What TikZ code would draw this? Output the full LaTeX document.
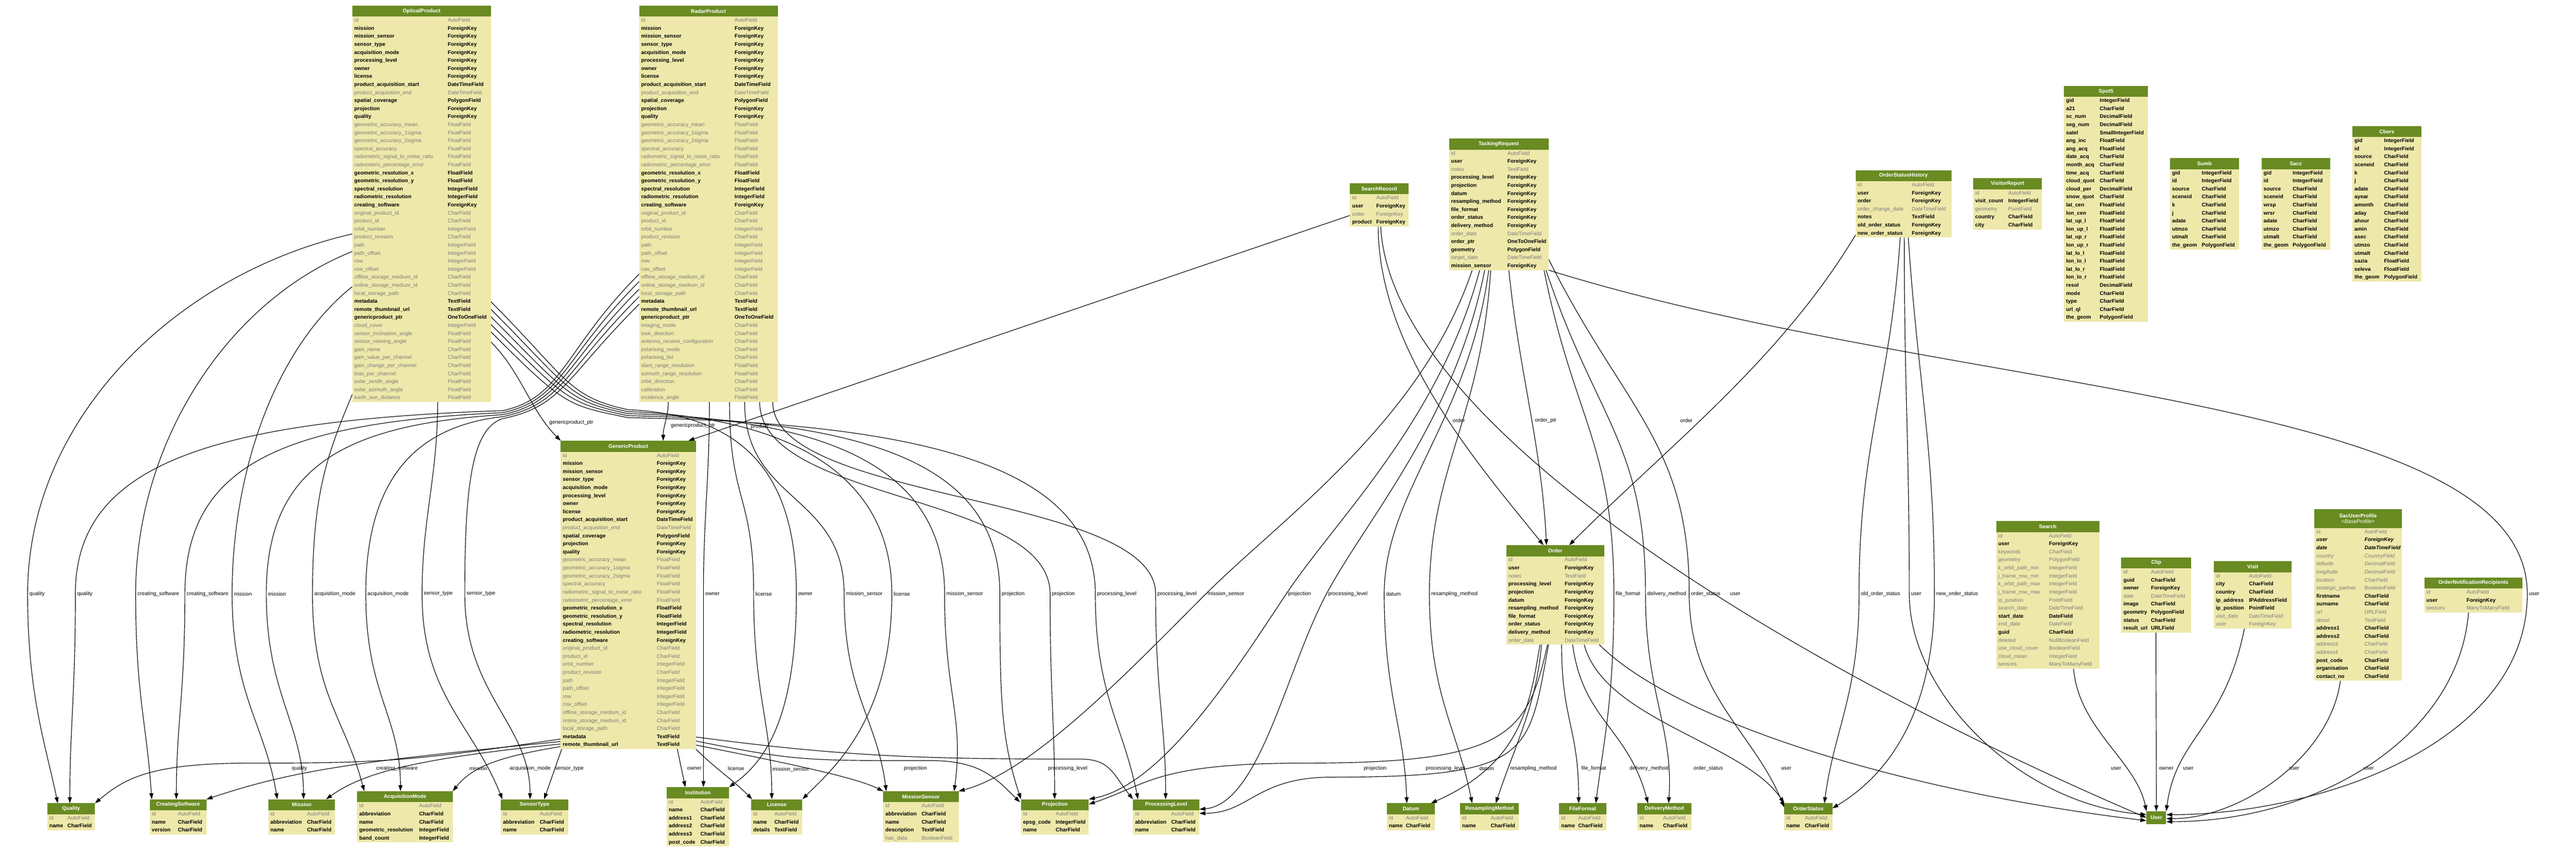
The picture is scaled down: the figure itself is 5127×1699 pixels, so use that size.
\documentclass[tikz,border=0pt]{standalone}
\usepackage{fontspec}
\setmainfont{Liberation Sans}
\usetikzlibrary{arrows.meta}
\usetikzlibrary{calc}
\usetikzlibrary{backgrounds}
\tikzset{>={Triangle[length=12pt,width=8pt]}}
\definecolor{headgreen}{RGB}{105,139,34}
\definecolor{bodyyellow}{RGB}{238,232,170}
\definecolor{fieldgray}{RGB}{123,123,123}
\tikzset{
  fld/.style={inner sep=0pt, text height=7.6pt, text depth=2.2pt, font=\fontsize{10.5}{12}\selectfont},
  fb/.style={fld, font=\fontsize{10.5}{12}\selectfont\bfseries},
  fg/.style={fld, text=fieldgray},
  fi/.style={fld, text=fieldgray, font=\fontsize{10.5}{12}\selectfont\itshape},
  fbi/.style={fld, font=\fontsize{10.5}{12}\selectfont\bfseries\itshape},
  modelbody/.style={fill=bodyyellow, inner sep=0pt, outer sep=0pt},
  modeltitle/.style={text=white, font=\fontsize{10.5}{12}\selectfont\bfseries, align=center, inner sep=0pt},
  fk/.style={->, line width=1.2pt},
  lbl/.style={font=\fontsize{10.5}{12}\selectfont, inner sep=3pt}
}
% name, x, y, width, type column, header height, rows, title, fields
\newcommand{\model}[9]{
  \node[modelbody, minimum width=#4, minimum height={#6+16*#7}, anchor=north west] (#1) at (#2,#3) {};
  \fill[headgreen] (#1.north west) rectangle ($(#1.north east)+(0,#6)$);
  \node[modeltitle] (#1-title) at ($(#1.north)+(0,#6/2)$) {#8};
  \foreach \fname/\ftype/\fstyle [count=\i] in #9 {
    \node[\fstyle, anchor=west] (#1-n\i) at ($(#1.north west)+(4,#6+16*\i-8)$) {\fname};
    \node[\fstyle, anchor=west] (#1-t\i) at ($(#1.north west)+(#5,#6+16*\i-8)$) {\ftype};
  }
}
\newcommand{\productfields}{id/AutoField/fg, mission/ForeignKey/fb, mission\_sensor/ForeignKey/fb,
  sensor\_type/ForeignKey/fb, acquisition\_mode/ForeignKey/fb, processing\_level/ForeignKey/fb,
  owner/ForeignKey/fb, license/ForeignKey/fb, product\_acquisition\_start/DateTimeField/fb,
  product\_acquisition\_end/DateTimeField/fg, spatial\_coverage/PolygonField/fb, projection/ForeignKey/fb,
  quality/ForeignKey/fb, geometric\_accuracy\_mean/FloatField/fg, geometric\_accuracy\_1sigma/FloatField/fg,
  geometric\_accuracy\_2sigma/FloatField/fg, spectral\_accuracy/FloatField/fg,
  radiometric\_signal\_to\_noise\_ratio/FloatField/fg, radiometric\_percentage\_error/FloatField/fg,
  geometric\_resolution\_x/FloatField/fb, geometric\_resolution\_y/FloatField/fb,
  spectral\_resolution/IntegerField/fb, radiometric\_resolution/IntegerField/fb,
  creating\_software/ForeignKey/fb, original\_product\_id/CharField/fg, product\_id/CharField/fg,
  orbit\_number/IntegerField/fg, product\_revision/CharField/fg, path/IntegerField/fg,
  path\_offset/IntegerField/fg, row/IntegerField/fg, row\_offset/IntegerField/fg,
  offline\_storage\_medium\_id/CharField/fg, online\_storage\_medium\_id/CharField/fg,
  local\_storage\_path/CharField/fg, metadata/TextField/fb, remote\_thumbnail\_url/TextField/fb}
\expandafter\def\expandafter\opticalfields\expandafter{\productfields,
  genericproduct\_ptr/OneToOneField/fb, cloud\_cover/IntegerField/fg,
  sensor\_inclination\_angle/FloatField/fg, sensor\_viewing\_angle/FloatField/fg,
  gain\_name/CharField/fg, gain\_value\_per\_channel/CharField/fg, gain\_change\_per\_channel/CharField/fg,
  bias\_per\_channel/CharField/fg, solar\_zenith\_angle/FloatField/fg,
  solar\_azimuth\_angle/FloatField/fg, earth\_sun\_distance/FloatField/fg}
\expandafter\def\expandafter\radarfields\expandafter{\productfields,
  genericproduct\_ptr/OneToOneField/fb, imaging\_mode/CharField/fg, look\_direction/CharField/fg,
  antenna\_receive\_configuration/CharField/fg, polarising\_mode/CharField/fg,
  polarising\_list/CharField/fg, slant\_range\_resolution/FloatField/fg,
  azimuth\_range\_resolution/FloatField/fg, orbit\_direction/CharField/fg,
  calibration/CharField/fg, incidence\_angle/FloatField/fg}
\newcommand{\orderfields}{id/AutoField/fg, user/ForeignKey/fb, notes/TextField/fg,
  processing\_level/ForeignKey/fb, projection/ForeignKey/fb, datum/ForeignKey/fb,
  resampling\_method/ForeignKey/fb, file\_format/ForeignKey/fb, order\_status/ForeignKey/fb,
  delivery\_method/ForeignKey/fb, order\_date/DateTimeField/fg}
\expandafter\def\expandafter\taskingfields\expandafter{\orderfields,
  order\_ptr/OneToOneField/fb, geometry/PolygonField/fb, target\_date/DateTimeField/fg,
  mission\_sensor/ForeignKey/fb}

\begin{document}
\begin{tikzpicture}[x=1pt, y=-1pt]
    \useasboundingbox (0,0) rectangle (5127,1699);
    \model{optical}{701}{11}{276}{190}{22}{48}{OpticalProduct}{\opticalfields}
    \model{radar}{1272}{11}{276}{190}{22}{48}{RadarProduct}{\radarfields}
    \model{generic}{1116}{878}{269}{191}{22}{37}{GenericProduct}{\productfields}
    \model{searchrecord}{2687}{365}{116}{52}{22}{4}{SearchRecord}{{id/AutoField/fg, user/ForeignKey/fb,
      order/ForeignKey/fg, product/ForeignKey/fb}}
    \model{tasking}{2884}{276}{198}{116}{22}{15}{TaskingRequest}{\taskingfields}
    \model{order}{2998}{1086}{195}{116}{22}{11}{Order}{\orderfields}
    \model{osh}{3693}{339}{191}{112}{22}{7}{OrderStatusHistory}{{id/AutoField/fg, user/ForeignKey/fb,
      order/ForeignKey/fb, order\_change\_date/DateTimeField/fg, notes/TextField/fb,
      old\_order\_status/ForeignKey/fb, new\_order\_status/ForeignKey/fb}}
    \model{visitor}{3927}{355}{137}{70}{22}{5}{VisitorReport}{{id/AutoField/fg, visit\_count/IntegerField/fb,
      geometry/PointField/fg, country/CharField/fb, city/CharField/fb}}
    \model{spot}{4108}{171}{167}{71}{22}{28}{Spot5}{{gid/IntegerField/fb, a21/CharField/fb,
      sc\_num/DecimalField/fb, seg\_num/DecimalField/fb, satel/SmallIntegerField/fb,
      ang\_inc/FloatField/fb, ang\_acq/FloatField/fb, date\_acq/CharField/fb, month\_acq/CharField/fb,
      time\_acq/CharField/fb, cloud\_quot/CharField/fb, cloud\_per/DecimalField/fb,
      snow\_quot/CharField/fb, lat\_cen/FloatField/fb, lon\_cen/FloatField/fb, lat\_up\_l/FloatField/fb,
      lon\_up\_l/FloatField/fb, lat\_up\_r/FloatField/fb, lon\_up\_r/FloatField/fb, lat\_lo\_l/FloatField/fb,
      lon\_lo\_l/FloatField/fb, lat\_lo\_r/FloatField/fb, lon\_lo\_r/FloatField/fb, resol/DecimalField/fb,
      mode/CharField/fb, type/CharField/fb, url\_ql/CharField/fb, the\_geom/PolygonField/fb}}
    \model{sumb}{4319}{315}{137}{63}{22}{10}{Sumb}{{gid/IntegerField/fb, id/IntegerField/fb,
      source/CharField/fb, sceneid/CharField/fb, k/CharField/fb, j/CharField/fb, adate/CharField/fb,
      utmzo/CharField/fb, utmalt/CharField/fb, the\_geom/PolygonField/fb}}
    \model{sacc}{4501}{315}{137}{62}{22}{10}{Sacc}{{gid/IntegerField/fb, id/IntegerField/fb,
      source/CharField/fb, sceneid/CharField/fb, wrsp/CharField/fb, wrsr/CharField/fb, adate/CharField/fb,
      utmzo/CharField/fb, utmalt/CharField/fb, the\_geom/PolygonField/fb}}
    \model{cbers}{4682}{251}{137}{63}{22}{18}{Cbers}{{gid/IntegerField/fb, id/IntegerField/fb,
      source/CharField/fb, sceneid/CharField/fb, k/CharField/fb, j/CharField/fb, adate/CharField/fb,
      ayear/CharField/fb, amonth/CharField/fb, aday/CharField/fb, ahour/CharField/fb, amin/CharField/fb,
      asec/CharField/fb, utmzo/CharField/fb, utmalt/CharField/fb, sazia/FloatField/fb,
      seleva/FloatField/fb, the\_geom/PolygonField/fb}}
    \model{search}{3973}{1038}{205}{105}{22}{17}{Search}{{id/AutoField/fg, user/ForeignKey/fb,
      keywords/CharField/fg, geometry/PolygonField/fg, k\_orbit\_path\_min/IntegerField/fg,
      j\_frame\_row\_min/IntegerField/fg, k\_orbit\_path\_max/IntegerField/fg,
      j\_frame\_row\_max/IntegerField/fg, ip\_position/PointField/fg, search\_date/DateTimeField/fg,
      start\_date/DateField/fb, end\_date/DateField/fg, guid/CharField/fb, deleted/NullBooleanField/fg,
      use\_cloud\_cover/BooleanField/fg, cloud\_mean/IntegerField/fg, sensors/ManyToManyField/fg}}
    \model{clip}{4222}{1110}{139}{59}{22}{8}{Clip}{{id/AutoField/fg, guid/CharField/fb,
      owner/ForeignKey/fb, date/DateTimeField/fg, image/CharField/fb, geometry/PolygonField/fb,
      status/CharField/fb, result\_url/URLField/fb}}
    \model{visit}{4406}{1118}{155}{70}{22}{7}{Visit}{{id/AutoField/fg, city/CharField/fb,
      country/CharField/fb, ip\_address/IPAddressField/fb, ip\_position/PointField/fb,
      visit\_date/DateTimeField/fg, user/ForeignKey/fg}}
    \model{profile}{4606}{1014}{174}{100}{38}{19}{SacUserProfile\\{\normalfont\itshape <BaseProfile>}}{{id/AutoField/fg,
      user/ForeignKey/fbi, date/DateTimeField/fbi, country/CountryField/fi, latitude/DecimalField/fi,
      longitude/DecimalField/fi, location/CharField/fi, strategic\_partner/BooleanField/fg,
      firstname/CharField/fb, surname/CharField/fb, url/URLField/fg, about/TextField/fg,
      address1/CharField/fb, address2/CharField/fb, address3/CharField/fg, address4/CharField/fg,
      post\_code/CharField/fb, organisation/CharField/fb, contact\_no/CharField/fb}}
    \model{recipients}{4825}{1150}{195}{84}{22}{3}{OrderNotificationRecipients}{{id/AutoField/fg,
      user/ForeignKey/fb, sensors/ManyToManyField/fg}}
    \model{quality}{94}{1600}{95}{40}{22}{2}{Quality}{{id/AutoField/fg, name/CharField/fb}}
    \model{software}{298}{1592}{113}{56}{22}{3}{CreatingSoftware}{{id/AutoField/fg, name/CharField/fb,
      version/CharField/fb}}
    \model{mission}{534}{1592}{133}{77}{22}{3}{Mission}{{id/AutoField/fg, abbreviation/CharField/fb,
      name/CharField/fb}}
    \model{acqmode}{711}{1576}{190}{123}{22}{5}{AcquisitionMode}{{id/AutoField/fg,
      abbreviation/CharField/fb, name/CharField/fb, geometric\_resolution/IntegerField/fb,
      band\_count/IntegerField/fb}}
    \model{sensortype}{997}{1592}{134}{77}{22}{3}{SensorType}{{id/AutoField/fg, abbreviation/CharField/fb,
      name/CharField/fb}}
    \model{institution}{1327}{1568}{124}{67}{22}{6}{Institution}{{id/AutoField/fg, name/CharField/fb,
      address1/CharField/fb, address2/CharField/fb, address3/CharField/fb, post\_code/CharField/fb}}
    \model{license}{1495}{1592}{102}{46}{22}{3}{License}{{id/AutoField/fg, name/CharField/fb,
      details/TextField/fb}}
    \model{missionsensor}{1758}{1576}{150}{76}{22}{5}{MissionSensor}{{id/AutoField/fg,
      abbreviation/CharField/fb, name/CharField/fb, description/TextField/fb, has\_data/BooleanField/fg}}
    \model{projection}{2032}{1592}{135}{69}{22}{3}{Projection}{{id/AutoField/fg, epsg\_code/IntegerField/fb,
      name/CharField/fb}}
    \model{proclevel}{2255}{1592}{132}{76}{22}{3}{ProcessingLevel}{{id/AutoField/fg,
      abbreviation/CharField/fb, name/CharField/fb}}
    \model{datum}{2760}{1600}{96}{38}{22}{2}{Datum}{{id/AutoField/fg, name/CharField/fb}}
    \model{resampling}{2906}{1600}{117}{61}{22}{2}{ResamplingMethod}{{id/AutoField/fg, name/CharField/fb}}
    \model{fileformat}{3103}{1600}{94}{38}{22}{2}{FileFormat}{{id/AutoField/fg, name/CharField/fb}}
    \model{delivery}{3259}{1600}{107}{51}{22}{2}{DeliveryMethod}{{id/AutoField/fg, name/CharField/fb}}
    \model{orderstatus}{3551}{1600}{96}{41}{22}{2}{OrderStatus}{{id/AutoField/fg, name/CharField/fb}}
    \node[modeltitle, fill=headgreen, minimum width=39, minimum height=25, anchor=north west] (user) at (4272,1616) {User};

    \begin{scope}[on background layer]
    \fill[white] (0,0) rectangle (5127,1699);
    % optical product, left side
    \draw[fk] ($(optical.north west)+(0,455)$) .. controls +(-350,80) and +(0,-350) .. (55,1183) node[lbl,anchor=west] (lq1) {quality} .. controls +(0,200) and +(-25,-120) .. ($(quality.north west)+(21,0)$);
    \draw[fk] ($(optical.north west)+(0,490)$) .. controls +(-250,100) and +(0,-300) .. (270,1183) node[lbl,anchor=west] (lc1) {creating\_software} .. controls +(0,200) and +(-10,-150) .. ($(software.north west)+(4,0)$);
    \draw[fk] ($(optical.north west)+(0,560)$) .. controls +(-150,120) and +(0,-250) .. (462,1183) node[lbl,anchor=west] (lm1) {mission} .. controls +(0,200) and +(-25,-150) .. ($(mission.north west)+(18,0)$);
    \draw[fk] ($(optical.north west)+(0,775)$) .. controls +(-50,120) and +(0,-200) .. (622,1183) node[lbl,anchor=west] (la1) {acquisition\_mode} .. controls +(0,200) and +(-40,-150) .. ($(acqmode.north west)+(14,0)$);
    \draw[fk] ($(optical.south west)+(170,0)$) .. controls +(0,150) and +(0,-150) .. (840,1183) node[lbl,anchor=west] (ls1) {sensor\_type} .. controls +(0,200) and +(-60,-150) .. ($(sensortype.north west)+(3,0)$);
    % radar product, left side under the optical product
    \draw[fk] ($(radar.north west)+(0,535)$) .. controls +(-150,150) and +(120,-25) .. (1000,818) .. controls +(-600,20) and +(0,-250) .. (150,1183) node[lbl,anchor=west] (lq2) {quality} .. controls +(0,200) and +(0,-150) .. ($(quality.north west)+(45,0)$);
    \draw[fk] ($(radar.north west)+(0,550)$) .. controls +(-150,150) and +(120,-25) .. (1000,822) .. controls +(-450,20) and +(0,-250) .. (368,1183) node[lbl,anchor=west] (lc2) {creating\_software} .. controls +(0,200) and +(0,-150) .. ($(software.north west)+(53,0)$);
    \draw[fk] ($(radar.north west)+(0,565)$) .. controls +(-150,150) and +(120,-25) .. (1000,826) .. controls +(-320,20) and +(0,-250) .. (530,1183) node[lbl,anchor=west] (lm2) {mission} .. controls +(0,200) and +(0,-150) .. ($(mission.north west)+(70,0)$);
    \draw[fk] ($(radar.north west)+(0,580)$) .. controls +(-150,150) and +(120,-25) .. (1000,830) .. controls +(-180,20) and +(0,-220) .. (728,1183) node[lbl,anchor=west] (la2) {acquisition\_mode} .. controls +(0,200) and +(0,-150) .. ($(acqmode.north west)+(86,0)$);
    \draw[fk] ($(radar.north west)+(0,595)$) .. controls +(-150,150) and +(120,-25) .. (1000,834) .. controls +(-60,20) and +(0,-220) .. (925,1183) node[lbl,anchor=west] (ls2) {sensor\_type} .. controls +(0,200) and +(0,-150) .. ($(sensortype.north west)+(58,0)$);
    % optical product, right side under the radar product
    \draw[fk] ($(optical.north east)+(0,590)$) .. controls +(150,150) and +(-120,-25) .. (1250,816) .. controls +(220,10) and +(0,-250) .. (1585,1183) node[lbl,anchor=west] (lo1) {owner} .. controls +(0,250) and +(70,-50) .. (institution.north east);
    \draw[fk] ($(optical.north east)+(0,605)$) .. controls +(150,150) and +(-120,-25) .. (1250,820) .. controls +(300,10) and +(0,-250) .. (1775,1183) node[lbl,anchor=west] (ll1) {license} .. controls +(0,250) and +(60,-60) .. (license.north east);
    \draw[fk] ($(optical.north east)+(0,620)$) .. controls +(150,150) and +(-120,-25) .. (1250,824) .. controls +(400,10) and +(0,-250) .. (1880,1183) node[lbl,anchor=west] (lms1) {mission\_sensor} .. controls +(0,200) and +(20,-150) .. ($(missionsensor.north west)+(141,0)$);
    \draw[fk] ($(optical.north east)+(0,635)$) .. controls +(150,150) and +(-120,-25) .. (1250,828) .. controls +(500,10) and +(0,-250) .. (1990,1183) node[lbl,anchor=west] (lp1) {projection} .. controls +(0,200) and +(-40,-120) .. (projection.north west);
    \draw[fk] ($(optical.north east)+(0,650)$) .. controls +(150,150) and +(-120,-25) .. (1250,832) .. controls +(600,10) and +(0,-250) .. (2180,1183) node[lbl,anchor=west] (lpl1) {processing\_level} .. controls +(0,200) and +(-30,-150) .. ($(proclevel.north west)+(10,0)$);
    % radar product, down
    \draw[fk] ($(radar.south west)+(140,0)$) .. controls +(0,150) and +(0,-150) .. (1400,1183) node[lbl,anchor=west] (lo2) {owner} .. controls +(0,200) and +(0,-150) .. ($(institution.north west)+(73,0)$);
    \draw[fk] ($(radar.south west)+(180,0)$) .. controls +(0,200) and +(0,-200) .. (1500,1183) node[lbl,anchor=west] (ll2) {license} .. controls +(0,200) and +(0,-150) .. ($(license.north west)+(41,0)$);
    \draw[fk] ($(radar.south west)+(210,0)$) .. controls +(0,200) and +(0,-200) .. (1680,1183) node[lbl,anchor=west] (lms2) {mission\_sensor} .. controls +(0,200) and +(-20,-150) .. ($(missionsensor.north west)+(6,0)$);
    \draw[fk] ($(radar.south west)+(240,0)$) .. controls +(0,200) and +(0,-200) .. (2090,1183) node[lbl,anchor=west] (lp2) {projection} .. controls +(0,200) and +(0,-150) .. ($(projection.north west)+(67,0)$);
    \draw[fk] ($(radar.south east)+(-10,0)$) .. controls +(0,200) and +(0,-200) .. (2300,1183) node[lbl,anchor=west] (lpl2) {processing\_level} .. controls +(0,200) and +(0,-150) .. ($(proclevel.north west)+(65,0)$);
    % generic product
    \draw[fk] ($(generic.south west)+(0,-20)$) .. controls +(-300,45) and +(250,0) .. (500,1520) .. controls +(-200,0) and +(60,-50) .. (quality.north east);
    \draw[fk] ($(generic.south west)+(0,-15)$) .. controls +(-400,40) and +(180,-60) .. (software.north east);
    \draw[fk] ($(generic.south west)+(0,-10)$) .. controls +(-300,30) and +(70,-50) .. ($(mission.north west)+(115,0)$);
    \draw[fk] ($(generic.south west)+(0,-5)$) .. controls +(-120,20) and +(40,-50) .. (acqmode.north east);
    \draw[fk] ($(generic.south west)+(2,0)$) -- ($(sensortype.north west)+(86,0)$);
    \draw[fk] ($(generic.south west)+(232,0)$) -- ($(institution.north west)+(37,0)$);
    \draw[fk] (generic.south east) .. controls +(40,40) and +(-40,-40) .. ($(license.north west)+(2,0)$);
    \draw[fk] ($(generic.south east)+(0,-8)$) .. controls +(150,30) and +(-60,-30) .. (missionsensor.north west);
    \draw[fk] ($(generic.south east)+(0,-16)$) .. controls +(200,40) and +(-250,0) .. (1850,1515) .. controls +(100,0) and +(-50,-50) .. ($(projection.north west)+(-2,6)$);
    \draw[fk] ($(generic.south east)+(0,-24)$) .. controls +(300,40) and +(-300,0) .. (2150,1512) .. controls +(60,0) and +(-40,-50) .. (proclevel.north west);
    \node[lbl] (lq3) at (596,1531) {quality};
    \node[lbl] (lc3) at (790,1531) {creating\_software};
    \node[lbl] (lm3) at (952,1531) {mission};
    \node[lbl] (la3) at (1055,1531) {acquisition\_mode};
    \node[lbl] (ls3) at (1133,1531) {sensor\_type};
    \node[lbl] (lo3) at (1382,1531) {owner};
    \node[lbl] (ll3) at (1465,1531) {license};
    \node[lbl] (lms3) at (1574,1533) {mission\_sensor};
    \node[lbl] (lp3) at (1822,1531) {projection};
    \node[lbl] (lpl3) at (2125,1531) {processing\_level};
    % generic product pointers
    \draw[fk] ($(optical.north east)+(0,670)$) .. controls +(60,60) and +(-60,-60) .. (generic.north west);
    \node[lbl,anchor=west] (lg1) at (1090,842) {genericproduct\_ptr};
    \draw[fk] ($(radar.south west)+(58,0)$) .. controls +(0,30) and +(0,-30) .. ($(generic.north west)+(204,0)$);
    \node[lbl,anchor=west] (lg2) at (1332,848) {genericproduct\_ptr};
    \draw[fk] ($(searchrecord.north west)+(0,64)$) -- ($(generic.north east)+(-15,0)$);
    \node[lbl] (lg3) at (1512,850) {product};
    % order
    \draw[fk] ($(searchrecord.south west)+(56,0)$) .. controls +(0,250) and +(-120,-150) .. ($(order.north west)+(74,0)$);
    \node[lbl,anchor=west] (lor1) at (2888,838) {order};
    \draw[fk] ($(tasking.south west)+(119,0)$) .. controls +(20,200) and +(-10,-200) .. ($(order.north west)+(80,0)$);
    \node[lbl,anchor=west] (lor2) at (3052,838) {order\_ptr};
    \draw[fk] ($(osh.south west)+(0,-5)$) .. controls +(-150,250) and +(200,-200) .. ($(order.north west)+(125,0)$);
    \node[lbl,anchor=east] (lor3) at (3372,838) {order};
    % tasking request
    \draw[fk] ($(tasking.south west)+(46,0)$) .. controls +(-100,300) and +(150,-150) .. (2400,1183) node[lbl,anchor=west] (lt1) {mission\_sensor} .. controls +(-150,150) and +(150,-40) .. (missionsensor.north east);
    \draw[fk] ($(tasking.south west)+(61,0)$) .. controls +(-80,300) and +(100,-150) .. (2560,1183) node[lbl,anchor=west] (lt2) {projection} .. controls +(-100,150) and +(150,-30) .. (projection.north east);
    \draw[fk] ($(tasking.south west)+(71,0)$) .. controls +(-60,300) and +(80,-150) .. (2640,1183) node[lbl,anchor=west] (lt3) {processing\_level} .. controls +(-80,150) and +(120,-10) .. ($(proclevel.north east)+(0,20)$);
    \draw[fk] ($(tasking.south west)+(79,0)$) .. controls +(-40,300) and +(0,-200) .. (2755,1183) node[lbl,anchor=west] (lt4) {datum} .. controls +(0,200) and +(-5,-150) .. ($(datum.north west)+(40,0)$);
    \draw[fk] ($(tasking.south west)+(83,0)$) .. controls +(-20,300) and +(0,-250) .. (2845,1183) node[lbl,anchor=west] (lt5) {resampling\_method} .. controls +(0,200) and +(-30,-150) .. ($(resampling.north west)+(24,0)$);
    \draw[fk] ($(tasking.south west)+(189,0)$) .. controls +(60,300) and +(0,-300) .. (3212,1183) node[lbl,anchor=west] (lt6) {file\_format} .. controls +(0,200) and +(20,-150) .. ($(fileformat.north west)+(73,0)$);
    \draw[fk] ($(tasking.south east)+(-5,0)$) .. controls +(100,300) and +(0,-300) .. (3275,1183) node[lbl,anchor=west] (lt7) {delivery\_method} .. controls +(0,200) and +(10,-150) .. ($(delivery.north west)+(62,0)$);
    \draw[fk] ($(tasking.north east)+(0,240)$) .. controls +(150,300) and +(0,-300) .. (3362,1183) node[lbl,anchor=west] (lt8) {order\_status} .. controls +(0,200) and +(-60,-150) .. ($(orderstatus.north west)+(0,8)$);
    \draw[fk] (tasking.south east) .. controls +(800,250) and +(0,-400) .. (5030,1183) node[lbl,anchor=west] (lt9) {user} .. controls +(0,300) and +(300,0) .. ($(user.east)+(0,-6)$);
    % search record
    \draw[fk] ($(searchrecord.south west)+(61,0)$) .. controls +(20,400) and +(-700,-300) .. (user.west);
    \node[lbl,anchor=west] (lsr) at (3440,1183) {user};
    % order
    \draw[fk] ($(order.south west)+(67,0)$) .. controls +(-20,120) and +(180,-80) .. ($(datum.north west)+(88,0)$);
    \draw[fk] ($(order.south west)+(70,0)$) .. controls +(-10,120) and +(40,-120) .. ($(resampling.north west)+(71,0)$);
    \draw[fk] ($(order.south west)+(82,0)$) .. controls +(-40,180) and +(400,0) .. (2600,1520) .. controls +(-300,0) and +(120,-40) .. ($(projection.north east)+(0,10)$);
    \draw[fk] ($(order.south west)+(84,0)$) .. controls +(-40,220) and +(400,0) .. (2650,1548) .. controls +(-150,0) and +(100,0) .. ($(proclevel.north east)+(0,28)$);
    \draw[fk] ($(order.south west)+(110,0)$) .. controls +(0,150) and +(0,-150) .. ($(fileformat.north west)+(39,0)$);
    \draw[fk] ($(order.south west)+(132,0)$) .. controls +(20,150) and +(-40,-150) .. ($(delivery.north west)+(21,0)$);
    \draw[fk] ($(order.south east)+(-40,0)$) .. controls +(40,150) and +(-80,-120) .. (orderstatus.north west);
    \draw[fk] ($(order.south east)+(-10,0)$) .. controls +(150,150) and +(-500,-60) .. ($(user.west)+(0,6)$);
    \node[lbl] (lod1) at (2737,1531) {projection};
    \node[lbl] (lod2) at (2877,1531) {processing\_level};
    \node[lbl] (lod3) at (2959,1531) {datum};
    \node[lbl] (lod4) at (3052,1531) {resampling\_method};
    \node[lbl] (lod5) at (3172,1531) {file\_format};
    \node[lbl] (lod6) at (3282,1531) {delivery\_method};
    \node[lbl] (lod7) at (3400,1531) {order\_status};
    \node[lbl] (lod8) at (3555,1531) {user};
    % order status history
    \draw[fk] ($(osh.south west)+(89,0)$) .. controls +(-20,300) and +(0,-300) .. (3700,1183) node[lbl,anchor=west] (lh1) {old\_order\_status} .. controls +(0,200) and +(20,-150) .. ($(orderstatus.north west)+(80,0)$);
    \draw[fk] ($(osh.south west)+(97,0)$) .. controls +(0,300) and +(0,-300) .. (3800,1183) node[lbl,anchor=west] (lh2) {user} .. controls +(0,200) and +(-250,-20) .. ($(user.west)+(0,-6)$);
    \draw[fk] ($(osh.south west)+(105,0)$) .. controls +(20,300) and +(0,-300) .. (3850,1183) node[lbl,anchor=west] (lh3) {new\_order\_status} .. controls +(0,250) and +(100,-60) .. ($(orderstatus.north east)+(0,10)$);
    % site users
    \draw[fk] ($(search.south west)+(154,0)$) .. controls +(10,120) and +(-20,-100) .. (user.north west);
    \node[lbl,anchor=east] (lu1) at (4225,1531) {user};
    \draw[fk] ($(clip.south west)+(69,0)$) .. controls +(0,150) and +(0,-150) .. (user.north);
    \node[lbl,anchor=west] (lu2) at (4294,1531) {owner};
    \draw[fk] ($(visit.south west)+(61,0)$) .. controls +(-40,200) and +(20,-150) .. (user.north east);
    \node[lbl,anchor=west] (lu3) at (4342,1531) {user};
    \draw[fk] ($(profile.south west)+(52,0)$) .. controls +(-20,150) and +(150,0) .. ($(user.east)+(0,2)$);
    \node[lbl,anchor=west] (lu4) at (4553,1531) {user};
    \draw[fk] ($(recipients.south west)+(88,0)$) .. controls +(-20,250) and +(300,0) .. ($(user.east)+(0,8)$);
    \node[lbl,anchor=west] (lu5) at (4701,1531) {user};
    \end{scope}
\end{tikzpicture}
\end{document}
